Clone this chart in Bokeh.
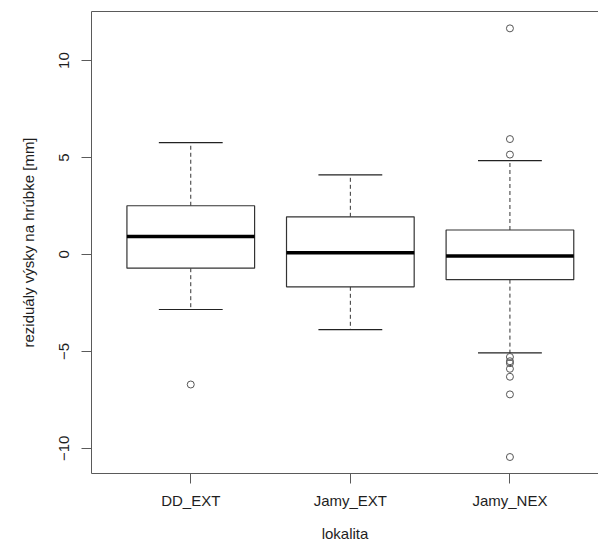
from bokeh.plotting import figure
from bokeh.models import FixedTicker, LinearAxis, Range1d, ColumnDataSource
from bokeh.embed import file_html
from bokeh.resources import INLINE

# ---- data ----
categories = ["DD_EXT", "Jamy_EXT", "Jamy_NEX"]
whisker_low = [-2.84, -3.88, -5.08]
q1 = [-0.71, -1.67, -1.30]
median = [0.92, 0.08, -0.08]
q3 = [2.51, 1.94, 1.26]
whisker_high = [5.77, 4.10, 4.84]
outliers_dd_ext = [-6.71]
outliers_jamy_ext = []
outliers_jamy_nex = [11.66, 5.95, 5.15, -5.29, -5.51, -5.61, -5.90, -6.31, -7.22, -10.45]
y_ticks = [-10, -5, 0, 5, 10]
x_label = "lokalita"
y_label = "reziduály výsky na hrúbke [mm]"

FONT = "Liberation Sans"
FS = "15px"
TXT = "#1e1e1e"
FRAME = "#5a5a5a"
BOXW = 0.4   # half box width (R boxwex 0.8)
CAPW = 0.2   # half staple width

pos = [i + 1 for i in range(len(categories))]

box_src = ColumnDataSource(dict(
    x=pos,
    left=[x - BOXW for x in pos],
    right=[x + BOXW for x in pos],
    cl=[x - CAPW for x in pos],
    cr=[x + CAPW for x in pos],
    q1=q1, q3=q3, med=median, lo=whisker_low, hi=whisker_high,
))

out_x, out_y = [], []
for x, vals in zip(pos, [outliers_dd_ext, outliers_jamy_ext, outliers_jamy_nex]):
    for v in vals:
        out_x.append(x)
        out_y.append(v)
out_src = ColumnDataSource(dict(x=out_x, y=out_y))

p = figure(width=598, height=544,
           x_range=Range1d(0.378, 3.555), y_range=Range1d(-11.30, 12.53),
           toolbar_location=None, output_backend="svg",
           min_border_left=91, min_border_right=0, min_border_top=11, min_border_bottom=70)
p.outline_line_color = None
p.background_fill_color = "white"
p.border_fill_color = "white"
p.xgrid.visible = False
p.ygrid.visible = False

# whiskers (dashed)
p.segment(x0="x", x1="x", y0="q3", y1="hi", source=box_src,
          line_color="#333333", line_width=1, line_dash="4 3")
p.segment(x0="x", x1="x", y0="q1", y1="lo", source=box_src,
          line_color="#333333", line_width=1, line_dash="4 3")
# staples
p.segment(x0="cl", x1="cr", y0="hi", y1="hi", source=box_src,
          line_color="#222222", line_width=1.2)
p.segment(x0="cl", x1="cr", y0="lo", y1="lo", source=box_src,
          line_color="#222222", line_width=1.2)
# boxes
p.quad(left="left", right="right", bottom="q1", top="q3", source=box_src,
       fill_color="white", line_color="#333333", line_width=1.2)
# medians
p.segment(x0="left", x1="right", y0="med", y1="med", source=box_src,
          line_color="black", line_width=3.5, line_cap="butt")
# outliers
p.scatter(x="x", y="y", source=out_src, marker="circle", size=7,
          fill_color=None, line_color="#555555", line_width=1)

# x axis
xa = p.xaxis[0]
xa.ticker = FixedTicker(ticks=pos)
xa.major_label_overrides = {x: c for x, c in zip(pos, categories)}
xa.axis_label = x_label
xa.minor_tick_line_color = None
xa.major_tick_out = 10
xa.major_tick_in = 0
xa.major_label_standoff = 8
xa.axis_label_standoff = 13

# y axis
ya = p.yaxis[0]
ya.ticker = FixedTicker(ticks=y_ticks)
ya.axis_label = y_label
ya.minor_tick_line_color = None
ya.major_tick_out = 10
ya.major_tick_in = 0
ya.major_label_orientation = "vertical"
ya.major_label_standoff = 12
ya.axis_label_standoff = 20

for ax in (xa, ya):
    ax.axis_line_color = FRAME
    ax.major_tick_line_color = FRAME
    ax.major_label_text_font = FONT
    ax.major_label_text_font_size = FS
    ax.major_label_text_color = TXT
    ax.axis_label_text_font = FONT
    ax.axis_label_text_font_size = FS
    ax.axis_label_text_font_style = "normal"
    ax.axis_label_text_color = TXT

# top frame line
top = LinearAxis(ticker=FixedTicker(ticks=[]), major_label_text_font_size="0px",
                 major_tick_out=0, major_tick_in=0, minor_tick_out=0, minor_tick_in=0,
                 major_label_standoff=0, axis_line_color=FRAME)
p.add_layout(top, "above")

open("out.html", "w").write(file_html(p, INLINE))
